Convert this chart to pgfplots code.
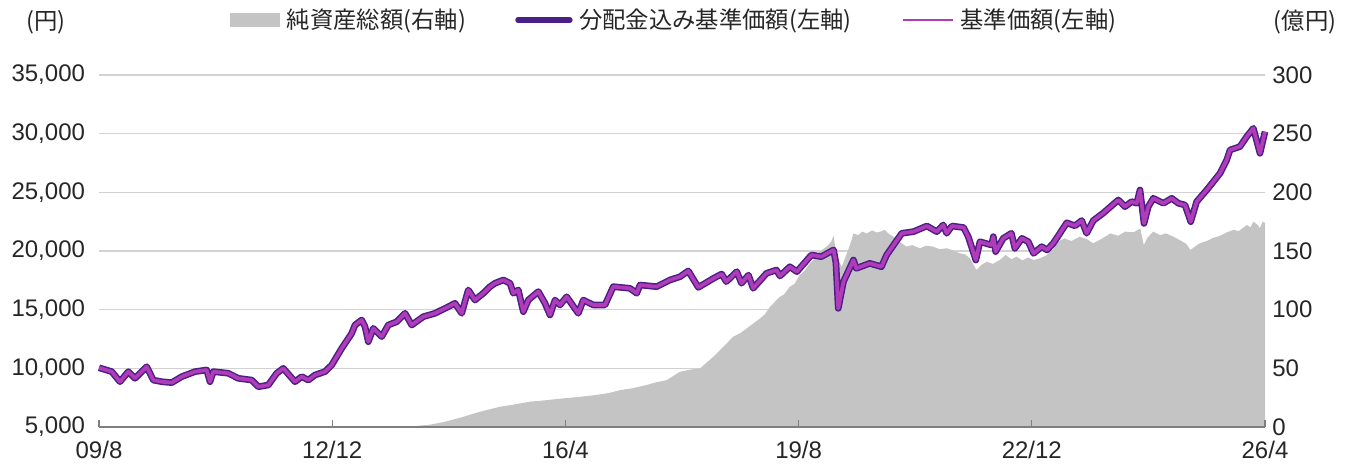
\documentclass[border=0pt]{standalone}
\usepackage{pgfplots}
\usepackage{pgfplotstable}
\pgfplotsset{compat=1.18}
\usepackage{fontspec}
\setmainfont{Liberation Sans}
\newfontfamily\jp{Noto Sans CJK JP}

\definecolor{areagray}{HTML}{C4C4C4}
\definecolor{navline}{HTML}{4A1F87}
\definecolor{magline}{HTML}{B03CB8}
\definecolor{gridgray}{HTML}{D2D2D2}
\definecolor{axisgray}{HTML}{7F7F7F}
\definecolor{txt}{HTML}{262626}

% x = months since 2009/8
\pgfplotstableread{
m v
0 10050
2.18 9720
3.60 8860
5.03 9720
6.17 9150
8.18 10140
9.31 9000
10.75 8860
12.47 8780
14.19 9290
16.47 9720
18.47 9860
19.04 8860
19.61 9720
22.18 9580
23.89 9150
26.19 9000
27.32 8430
29.04 8580
30.48 9580
31.61 10000
33.62 8860
34.77 9290
35.90 9000
37.05 9430
38.77 9720
39.91 10280
41.63 11700
43.34 12980
43.91 13690
45.06 14120
45.63 13550
46.19 12270
47.05 13410
48.49 12700
49.62 13690
51.06 13970
52.49 14690
53.64 13690
55.63 14400
57.63 14690
59.35 15110
61.06 15540
62.21 14690
63.34 16680
64.49 15820
65.92 16400
67.07 16960
67.92 17250
69.35 17530
70.50 17250
71.06 16400
71.92 16680
72.78 14830
73.64 15820
75.35 16540
76.50 15540
77.36 14550
78.22 15820
79.07 15400
80.22 16100
82.21 14690
83.07 15820
84.79 15400
86.79 15400
88.21 16960
91.08 16820
92.23 16400
92.80 17100
95.66 16960
97.94 17530
99.66 17810
101.08 18300
102.8 16900
105.4 17670
106.8 18040
107.6 17390
109.4 18240
110.2 17250
111.4 17950
112.2 16820
114.5 18100
116.2 18380
116.8 17870
118.5 18660
119.7 18240
122.2 19660
123.9 19520
126.0 20090
126.4 19000
126.8 15110
127.7 17390
129.4 19230
129.9 18520
132.2 18950
134.2 18660
135.1 19660
137.7 21510
139.7 21650
142.0 22130
143.7 21650
144.8 22220
145.4 21510
146.3 22130
148.3 22000
149.1 21220
150.4 19230
151.1 20790
153.1 20510
153.4 21220
153.8 19950
155.1 21080
156.5 21510
157.1 20230
158.3 21080
159.4 20790
160.3 19800
161.7 20370
162.6 20090
163.69 20660
166.0 22400
167.41 22150
168.56 22600
169.4 21510
170.55 22600
172.2 23210
174.84 24350
175.99 23780
177.14 24210
177.99 24070
178.56 25200
179.25 22350
179.98 23780
180.84 24490
182.56 24070
184.00 24490
185.13 24070
186.28 23920
187.26 22500
188.28 24210
190.00 25200
192.28 26620
193.43 27760
194.00 28610
195.71 28900
196.86 29750
198.00 30460
199.14 28330
200 30170
}\navdata

\pgfplotstableread{
m a
0 0
52 0
53.6 0.5
56.8 2
59.35 4.5
62 8
65.35 13
68.8 17.3
71 19
73.9 21.6
76 22.5
79.6 24.4
82 25.5
85.3 27.3
87.5 29
89.4 31.5
91.5 33
93.9 35.8
95.5 38
97.4 40
99.66 47.1
101.5 49
103.1 50
105.4 60
107 68
108.8 77
110 80
111.1 84
113.4 92.6
114.2 96
115.1 102.5
116.8 111
117.5 113
118.5 119.6
119.3 122
120.2 129.5
121 133
121.9 139.5
122.7 143
123.6 149.4
124.3 152
125.1 155
125.6 158
126.0 163
126.5 145
127.4 136.6
128.5 150.9
129.0 158
129.4 165
130.2 163.5
130.9 166.5
131.7 165
132.6 167.5
133.4 165.8
134.0 166.5
134.8 168
135.5 164.5
136.3 162.2
137.3 158
138.5 153.7
139.5 155
140.8 152.3
141.9 154.5
143.1 153.7
144.2 151.5
145.4 152.3
146.5 150.5
147.7 148
148.6 147
149.4 143.8
150.5 133.8
151.3 138
152.3 140.9
153.3 139
154.5 142.3
155.5 146.6
156.5 143
157.4 145.2
158.4 142
159.4 144.5
160.3 142.3
161.5 144
162.6 146.6
163.7 152
164.5 157.9
165.6 160.8
166.8 158.5
168.2 162.2
169.5 160
170.5 156.6
171.5 159
172.5 162
173.5 165
174.8 163
176 166.5
177.5 166
178.6 169.3
179.2 155.1
179.8 161
180.8 166.5
182 163.5
183 165
184.3 162.2
185.5 159
186.5 156
187.2 150.9
188.8 156.6
190 158.5
191 161
192.3 163
193.5 166
194.6 168
195.5 167
196.9 172.2
197.5 170
198.0 175
198.8 172
199.1 169.3
199.6 175
200 174
}\areadata

\pgfplotsset{
  base/.style={
    scale only axis, width=874.5pt, height=264pt,
    at={(0pt,0pt)}, anchor=south west,
    xmin=0, xmax=200, clip=false,
    tick label style={font=\fontsize{18}{20}\selectfont, text=txt},
    /pgf/number format/assume math mode=true,
    /pgf/number format/1000 sep={,},
    scaled y ticks=false,
  },
}

\begin{document}
\begin{tikzpicture}
\useasboundingbox (-74.25pt,-31.5pt) rectangle (935.25pt,320.25pt);

% grid + left labels
\begin{axis}[base,
  ymin=5000, ymax=35000, ytick={5000,10000,...,35000},
  ymajorgrids, grid style={gridgray, line width=0.8pt},
  hide x axis, axis y line*=left, y axis line style={draw=none},
  major tick length=0pt,
  yticklabel style={xshift=-7pt},
]
\end{axis}

% net assets, right axis
\begin{axis}[base,
  ymin=0, ymax=300, ytick={0,50,...,300},
  hide x axis, axis y line*=right, y axis line style={draw=none},
  major tick length=0pt,
  yticklabel style={xshift=2pt},
]
\addplot[fill=areagray, draw=none] table[x=m, y=a] {\areadata} \closedcycle;
\end{axis}

% NAV lines, x axis, legend
\begin{axis}[base,
  ymin=5000, ymax=35000,
  hide y axis, axis x line*=bottom,
  x axis line style={-, draw=axisgray, line width=1.5pt},
  xtick={0,40,80,120,160,200},
  xticklabels={09/8,12/12,16/4,19/8,22/12,26/4},
  xtick style={draw=axisgray, line width=1pt},
  tick align=inside, major tick length=5pt,
  xticklabel style={yshift=-7pt},
  legend columns=3,
  legend style={at={(rel axis cs:0.4931,1)}, anchor=center, yshift=41.25pt,
    draw=none, fill=none, font=\jp\fontsize{17.5}{19}\selectfont, text=txt,
    nodes={inner sep=1pt},
    /tikz/every odd column/.append style={column sep=4pt},
    /tikz/every even column/.append style={column sep=36pt},
    inner sep=0pt},
]
\addlegendimage{fill=areagray, draw=none,
  legend image code/.code={\fill[areagray] (0pt,-5pt) rectangle (37.5pt,5pt);}}
\addlegendentry{純資産総額(右軸)}
\addplot[navline, line width=5pt, line join=round,
  legend image code/.code={\draw[navline, line width=4pt, line cap=round] (0pt,0pt) -- (39pt,0pt);}]
  table[x=m, y=v] {\navdata};
\addlegendentry{分配金込み基準価額(左軸)}
\addplot[magline, line width=2.8pt, line join=round,
  legend image code/.code={\draw[magline, line width=2.2pt] (0pt,0pt) -- (37.5pt,0pt);}]
  table[x=m, y=v] {\navdata};
\addlegendentry{基準価額(左軸)}
\end{axis}

\node[font=\jp\fontsize{17.5}{19}\selectfont, text=txt] at (-39.75pt,303.75pt) {(円)};
\node[font=\jp\fontsize{17.5}{19}\selectfont, text=txt] at (904.5pt,303.75pt) {(億円)};
\end{tikzpicture}
\end{document}
